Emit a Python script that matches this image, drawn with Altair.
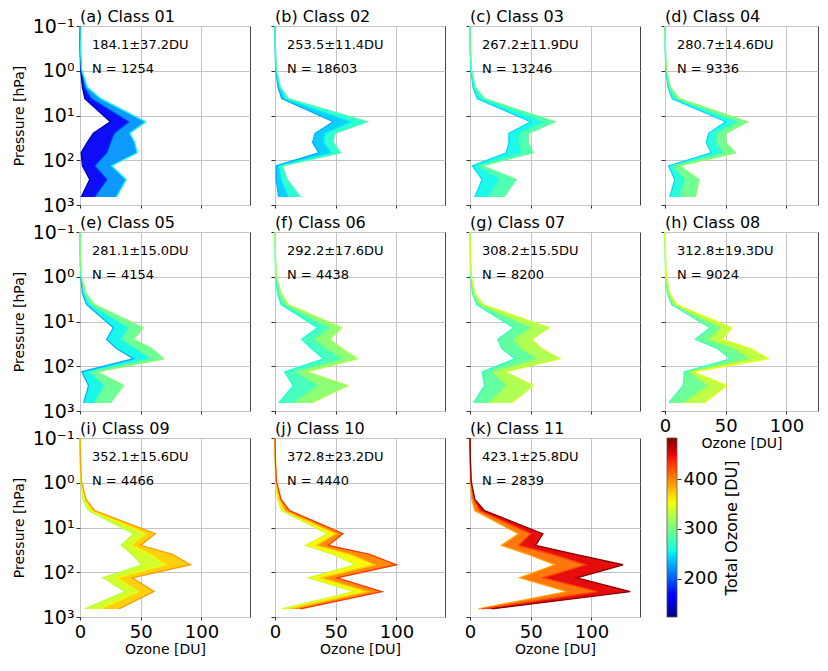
import altair as alt
import pandas as pd

# ---------------- data ----------------
LEVELS = [660, 270, 133, 68, 40, 25, 13.8, 4.2, 2.35, 0.93, 0.35, 0.1]  # hPa

CLASS_LABELS = ["(a) Class 01", "(b) Class 02", "(c) Class 03", "(d) Class 04",
                "(e) Class 05", "(f) Class 06", "(g) Class 07", "(h) Class 08",
                "(i) Class 09", "(j) Class 10", "(k) Class 11"]
MEAN_TO = [184.1, 253.5, 267.2, 280.7, 281.1, 292.2, 308.2, 312.8, 352.1, 372.8, 423.1]
SD_TO = [37.2, 11.4, 11.9, 14.6, 15.0, 17.6, 15.5, 19.3, 15.6, 23.2, 25.8]
N_PROF = [1254, 18603, 13246, 9336, 4154, 4438, 8200, 9024, 4466, 4440, 2839]

# total ozone of the left-edge, central and right-edge profiles of each bundle
TO_LO = [140, 228, 245, 245, 230, 260, 270, 275, 330, 340, 390]
TO_MID = [185, 250, 267, 280, 280, 292, 308, 312, 352, 372, 425]
TO_HI = [255, 280, 292, 310, 305, 325, 340, 350, 392, 430, 480]
TO_BAND1 = [160, 240, 256, 262, 255, 276, 289, 294, 341, 356, 408]
TO_BAND2 = [220, 265, 280, 295, 293, 308, 324, 331, 372, 400, 452]

# layer ozone [DU] at LEVELS
OZ_LO = [
    [1, 8, 2, 1, 6, 11, 25, 4, 2, 0.5, 0.2, 0],
    [3, 1, 1, 36, 31, 33, 48, 5.5, 2.5, 0.6, 0.2, 0],
    [4, 10, 2, 30, 32, 32, 50, 6, 2.5, 0.6, 0.2, 0],
    [4, 8, 3, 38, 34, 36, 50, 6, 2.5, 0.6, 0.2, 0],
    [3, 7, 1.5, 44, 30, 22, 27.5, 5.5, 2, 0.5, 0.2, 0],
    [3, 15, 8, 40, 30, 22, 35, 5, 2, 0.5, 0.2, 0],
    [3, 12, 10, 37, 26, 23, 36, 5.5, 2, 0.5, 0.2, 0],
    [3, 15, 16, 54, 43, 25, 37, 5.5, 2, 0.5, 0.2, 0],
    [4, 37, 19, 51, 43, 34, 44, 7, 2.5, 0.6, 0.2, 0],
    [5.5, 65, 27.5, 66, 48, 25, 43, 5.5, 2, 0.5, 0.2, 0],
    [7, 80, 41, 70, 48, 26, 40, 4, 1.5, 0.4, 0.2, 0],
]
OZ_MID = [
    [12, 22, 12, 22, 25, 28, 40, 9, 3.5, 0.8, 0.3, 0],
    [11, 5, 3, 46, 40, 41, 62, 8, 3.5, 0.9, 0.3, 0],
    [14, 24, 5, 42, 40, 40, 60, 9, 3.5, 0.9, 0.3, 0],
    [12, 16, 6, 48, 42, 42, 60, 9, 3.5, 0.9, 0.3, 0],
    [12, 20, 8, 58, 46, 34, 40, 9, 3.5, 0.8, 0.3, 0],
    [15, 35, 16, 55, 42, 32, 45, 8, 3.5, 0.8, 0.3, 0],
    [15, 30, 18, 55, 42, 36, 50, 8, 3, 0.8, 0.3, 0],
    [15, 35, 20, 70, 56, 36, 46, 7.5, 3, 0.8, 0.3, 0],
    [16, 48, 30, 70, 58, 42, 54, 9, 3.5, 0.9, 0.3, 0],
    [12, 76, 38, 82, 62, 34, 50, 8, 3.5, 0.8, 0.3, 0],
    [10, 105, 60, 95, 68, 40, 50, 8, 3, 0.7, 0.3, 0],
]
OZ_HI = [
    [30, 38, 26, 47, 45, 41, 54, 17, 6, 1.2, 0.4, 0],
    [21, 10, 6, 54, 48, 49, 76, 11, 4.5, 1.2, 0.4, 0],
    [28, 38, 10, 52, 48, 48, 70, 12, 4.5, 1.2, 0.4, 0],
    [25, 28, 12, 58, 50, 50, 68, 12, 4.5, 1.2, 0.4, 0],
    [25, 36, 14, 69, 59, 44, 52, 12, 5, 1, 0.4, 0],
    [30, 60, 26, 68, 55, 45, 55, 11, 5, 1.1, 0.4, 0],
    [34, 52, 29, 74, 59, 51, 65, 11, 4, 1, 0.4, 0],
    [32, 51, 23, 85, 70, 47, 55, 9.6, 4, 1, 0.4, 0],
    [32, 61, 43, 91, 76, 50, 62, 12, 5, 1.2, 0.4, 0],
    [21, 88, 51, 100, 78, 44, 56, 12, 5, 1.2, 0.4, 0],
    [18, 132, 88, 126, 87, 54, 60, 12, 4, 1, 0.4, 0],
]

# colour bar range and matplotlib "jet" stops
CB_MIN, CB_MAX = 123, 483
JET_T = [0, 0.11, 0.125, 0.34, 0.35, 0.375, 0.64, 0.65, 0.66, 0.89, 0.91, 1]
JET_C = ["#000080", "#0000ff", "#0000ff", "#00dbff", "#00e6f7", "#15ffe2",
         "#eeff08", "#f7f500", "#ffec00", "#ff1300", "#e80000", "#800000"]
CB_TICKS = [200, 300, 400]
X_TICKS = [0, 50, 100]
Y_TICKS = [0.1, 1, 10, 100, 1000]
X_MAX = 140           # full panel range in DU
X_MAX_LAST = 126      # right-hand column is cut by the figure edge

# ---------------- build tables ----------------
FONT = "DejaVu Sans"
W, H = 170, 179
W_LAST = 153

line_rows, band_rows = [], []
for c in range(11):
    profs = [("lo", TO_LO[c], OZ_LO[c]), ("mid", TO_MID[c], OZ_MID[c]), ("hi", TO_HI[c], OZ_HI[c])]
    for name, to, oz in profs:
        for k, (p, v) in enumerate(zip(LEVELS, oz)):
            line_rows.append(dict(cls=c, prof=name, to=to, k=k, p=p, oz=v))
    for bname, to, a, b in (("b1", TO_BAND1[c], OZ_LO[c], OZ_MID[c]),
                            ("b2", TO_BAND2[c], OZ_MID[c], OZ_HI[c])):
        for k, p in enumerate(LEVELS):
            band_rows.append(dict(cls=c, band=bname, to=to, k=k, p=p, lox=a[k], hix=b[k]))
lines_df = pd.DataFrame(line_rows)
bands_df = pd.DataFrame(band_rows)

cdomain = [CB_MIN + t * (CB_MAX - CB_MIN) for t in JET_T]
cscale = alt.Scale(domain=cdomain, range=JET_C, interpolate="rgb", clamp=True)

ylabel = ("datum.value < 0.5 ? '10\u207b\u00b9' : datum.value < 5 ? '10\u2070' : "
          "datum.value < 50 ? '10\u00b9' : datum.value < 500 ? '10\u00b2' : '10\u00b3'")


def panel(i):
    row, col = divmod(i, 4)
    left = col == 0
    last = col == 3
    bottom = row == 2 or i == 7
    xaxis = alt.Axis(values=X_TICKS, labels=bottom, title="Ozone [DU]" if bottom else "",
                     labelFontSize=18, titleFontSize=14, titlePadding=1, labelPadding=3,
                     tickSize=3, grid=True, domain=False, labelFlush=False)
    yaxis = alt.Axis(values=Y_TICKS, labels=left, title="Pressure [hPa]" if left else "",
                     labelExpr=ylabel, labelFontSize=19, titleFontSize=14, titlePadding=6,
                     labelPadding=2, tickSize=4, grid=True, domain=False, labelFlush=False)
    xs = alt.Scale(domain=[0, X_MAX_LAST if last else X_MAX], nice=False, zero=False)
    ys = alt.Scale(type="log", domain=[0.1, 1000], reverse=True, nice=False)
    layers = []
    for bname in ("b1", "b2"):
        d = bands_df[(bands_df.cls == i) & (bands_df.band == bname)]
        layers.append(
            alt.Chart(d).mark_area(orient="horizontal", fillOpacity=0.95).encode(
                y=alt.Y("p:Q", scale=ys, axis=yaxis),
                x=alt.X("lox:Q", scale=xs, axis=xaxis),
                x2=alt.X2("hix"),
                color=alt.Color("to:Q", scale=cscale, legend=None),
            )
        )
    layers.append(
        alt.Chart(lines_df[lines_df.cls == i]).mark_line(strokeWidth=1.3).encode(
            x=alt.X("oz:Q", scale=xs, axis=xaxis),
            y=alt.Y("p:Q", scale=ys, axis=yaxis),
            color=alt.Color("to:Q", scale=cscale, legend=None),
            detail="prof:N",
            order="k:Q",
        )
    )
    txt = pd.DataFrame({"t1": [f"{MEAN_TO[i]:.1f}\u00b1{SD_TO[i]:.1f}DU"],
                        "t2": [f"N = {N_PROF[i]}"],
                        "t0": [CLASS_LABELS[i]]})
    for fld, yy in (("t1", 23), ("t2", 47)):
        layers.append(
            alt.Chart(txt).mark_text(align="left", baseline="alphabetic", fontSize=13, font=FONT,
                                     color="black").encode(text=f"{fld}:N", x=alt.value(12), y=alt.value(yy))
        )
    layers.append(
        alt.Chart(txt).mark_text(align="left", baseline="alphabetic", fontSize=16, font=FONT,
                                 color="black").encode(text="t0:N", x=alt.value(0), y=alt.value(-4))
    )
    return alt.layer(*layers).properties(width=W_LAST if last else W, height=H)


panels = [panel(i) for i in range(11)]

grad = alt.LinearGradient(
    gradient="linear",
    stops=[alt.GradientStop(offset=t, color=c) for t, c in zip(JET_T, JET_C)],
    x1=0, x2=0, y1=1, y2=0,
)
cb = alt.Chart(pd.DataFrame({"lo": [CB_MIN], "hi": [CB_MAX]})).mark_rect(
    color=grad, stroke="#555555", strokeWidth=0.8
).encode(
    x=alt.value(2), x2=alt.value(12),
    y=alt.Y("lo:Q", scale=alt.Scale(domain=[CB_MIN, CB_MAX], nice=False, zero=False),
            axis=alt.Axis(orient="right", values=CB_TICKS, title="Total Ozone [DU]",
                          labelFontSize=18, titleFontSize=16, titleAngle=270, titleBaseline="top",
                          titlePadding=6, tickSize=4, labelPadding=2, grid=False, domain=False)),
    y2="hi:Q",
).properties(width=12, height=H, view=alt.ViewBackground(stroke="transparent"))

chart = alt.concat(*panels, cb, columns=4, spacing={"row": 27, "column": 25}, bounds="flush",
                   align="each").properties(
    padding={"left": 3, "top": 0, "right": 0, "bottom": 0},
    background="white",
).configure_view(stroke="#444444", strokeWidth=1).configure_axis(
    labelFont=FONT, titleFont=FONT, labelColor="black", titleColor="black",
    tickColor="#333333", gridColor="#c4c4c4", gridWidth=1, titleFontWeight="normal",
)

chart.save("out.html", embed_options={"renderer": "svg", "actions": False})
